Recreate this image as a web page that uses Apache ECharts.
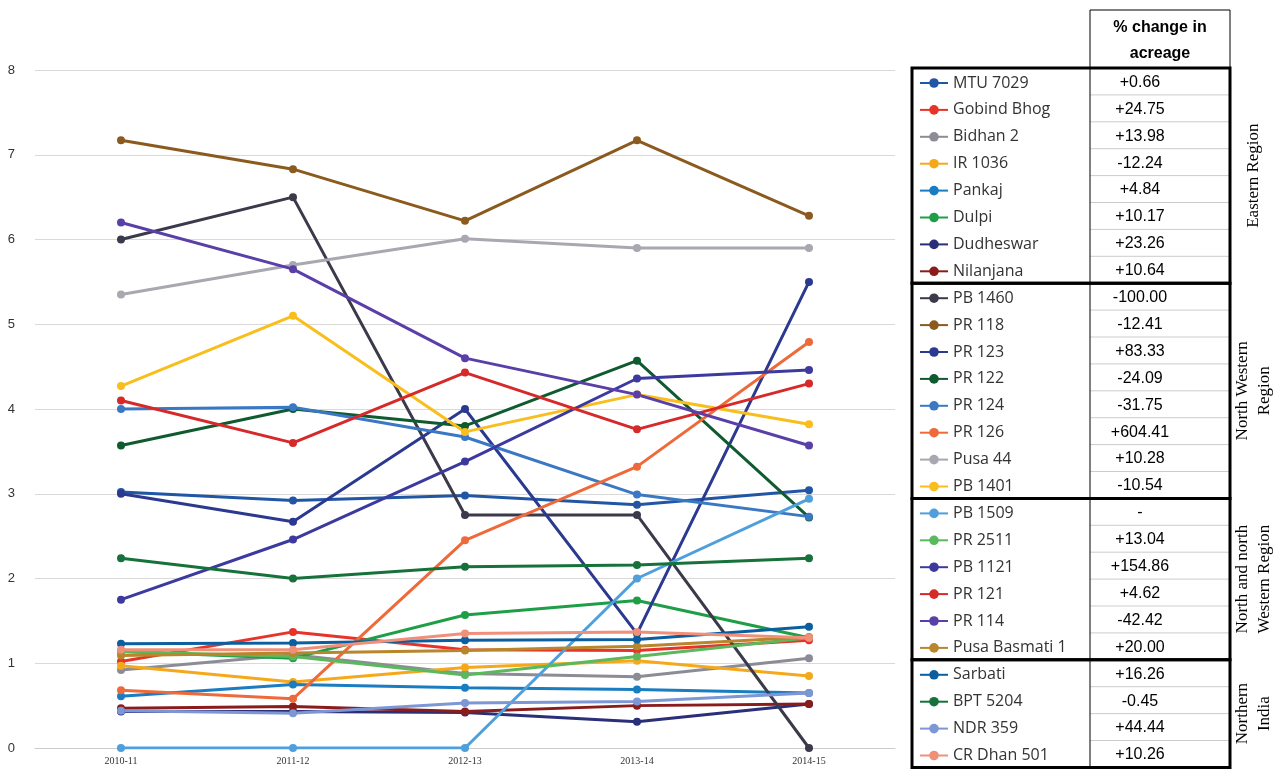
<!DOCTYPE html>
<html>
<head>
<meta charset="utf-8">
<script src="https://cdn.jsdelivr.net/npm/echarts@6/dist/echarts.min.js"></script>
<style>html,body{margin:0;padding:0;background:#fff}#chart{width:1281px;height:773px}</style>
</head>
<body>
<div id="chart"></div>
<script>
var years = ['2010-11', '2011-12', '2012-13', '2013-14', '2014-15'];

var varieties = ['MTU 7029', 'Gobind Bhog', 'Bidhan 2', 'IR 1036', 'Pankaj', 'Dulpi', 'Dudheswar', 'Nilanjana',
    'PB 1460', 'PR 118', 'PR 123', 'PR 122', 'PR 124', 'PR 126', 'Pusa 44', 'PB 1401',
    'PB 1509', 'PR 2511', 'PB 1121', 'PR 121', 'PR 114', 'Pusa Basmati 1',
    'Sarbati', 'BPT 5204', 'NDR 359', 'CR Dhan 501'];
var pctChange = ['+0.66', '+24.75', '+13.98', '-12.24', '+4.84', '+10.17', '+23.26', '+10.64',
    '-100.00', '-12.41', '+83.33', '-24.09', '-31.75', '+604.41', '+10.28', '-10.54',
    '-', '+13.04', '+154.86', '+4.62', '-42.42', '+20.00',
    '+16.26', '-0.45', '+44.44', '+10.26'];
var colors = ['#2156a5', '#e8332a', '#8c8c96', '#f5a91a', '#1a7cc1', '#1f9e48', '#2a2f78', '#8b1c1c',
    '#3a3a4a', '#8b5a1e', '#2b3990', '#0f5a2e', '#3b78c4', '#ef6a3a', '#a8a8b0', '#f9bd1c',
    '#4e9fdc', '#5cb85c', '#3c3a9e', '#d62a2a', '#5b3fa8', '#b8862b',
    '#0b5fa0', '#16723a', '#7d96d4', '#f0907a'];
var values = [
    [3.02, 2.92, 2.98, 2.87, 3.04],
    [1.02, 1.37, 1.16, 1.15, 1.27],
    [0.92, 1.10, 0.88, 0.84, 1.06],
    [0.97, 0.78, 0.95, 1.03, 0.85],
    [0.61, 0.75, 0.71, 0.69, 0.65],
    [1.14, 1.06, 1.57, 1.74, 1.30],
    [0.43, 0.43, 0.42, 0.31, 0.52],
    [0.47, 0.49, 0.43, 0.50, 0.52],
    [6.00, 6.50, 2.75, 2.75, 0.00],
    [7.17, 6.83, 6.22, 7.17, 6.28],
    [3.00, 2.67, 4.00, 1.35, 5.50],
    [3.57, 4.00, 3.80, 4.57, 2.72],
    [4.00, 4.02, 3.67, 2.99, 2.73],
    [0.68, 0.58, 2.45, 3.32, 4.79],
    [5.35, 5.70, 6.01, 5.90, 5.90],
    [4.27, 5.10, 3.73, 4.17, 3.82],
    [0.00, 0.00, 0.00, 2.00, 2.94],
    [1.14, 1.08, 0.86, 1.08, 1.30],
    [1.75, 2.46, 3.38, 4.36, 4.46],
    [4.10, 3.60, 4.43, 3.76, 4.30],
    [6.20, 5.65, 4.60, 4.17, 3.57],
    [1.09, 1.12, 1.15, 1.20, 1.31],
    [1.23, 1.24, 1.27, 1.28, 1.43],
    [2.24, 2.00, 2.14, 2.16, 2.24],
    [0.44, 0.41, 0.53, 0.55, 0.65],
    [1.16, 1.16, 1.35, 1.37, 1.30]
];
var regions = [
    { name: 'Eastern Region', from: 0, to: 8 },
    { name: 'North Western\nRegion', from: 8, to: 16 },
    { name: 'North and north\nWestern Region', from: 16, to: 22 },
    { name: 'Northern\nIndia', from: 22, to: 26 }
];

var chart = echarts.init(document.getElementById('chart'));

var rowTop = 68, rowH = 26.9;
var tableL = 912, colX = 1090, tableR = 1230;

var series = varieties.map(function (n, i) {
    return {
        name: n, type: 'line', data: values[i], symbol: 'circle', symbolSize: 8,
        lineStyle: { width: 3, color: colors[i] }, itemStyle: { color: colors[i] }
    };
});

var graphics = [];
// header cell
graphics.push({ type: 'rect', shape: { x: colX, y: 10, width: tableR - colX, height: rowTop - 10 },
    style: { fill: 'none', stroke: '#000', lineWidth: 1 } });
graphics.push({ type: 'text', x: (colX + tableR) / 2, y: 41,
    style: { text: '% change in\nacreage', fontSize: 16, fontWeight: 'bold', fontFamily: 'Liberation Sans',
        align: 'center', verticalAlign: 'middle', lineHeight: 26, fill: '#000' } });
pctChange.forEach(function (p, i) {
    graphics.push({ type: 'text', x: colX + 50, y: rowTop + rowH * (i + 0.5) + 1,
        style: { text: p, fontSize: 16, fontFamily: 'Liberation Sans', verticalAlign: 'middle', align: 'center', fill: '#000' } });
    graphics.push({ type: 'line', shape: { x1: colX, y1: rowTop + rowH * (i + 1), x2: tableR, y2: rowTop + rowH * (i + 1) },
        style: { stroke: '#999', lineWidth: 0.5 } });
});
graphics.push({ type: 'line', shape: { x1: colX, y1: rowTop, x2: colX, y2: rowTop + rowH * 26 },
    style: { stroke: '#000', lineWidth: 1 } });
regions.forEach(function (r) {
    var y0 = rowTop + rowH * r.from, h = rowH * (r.to - r.from);
    graphics.push({ type: 'rect', shape: { x: tableL, y: y0, width: tableR - tableL, height: h },
        style: { fill: 'none', stroke: '#000', lineWidth: 3 } });
    graphics.push({ type: 'text', x: 1254, y: y0 + h / 2, rotation: Math.PI / 2,
        style: { text: r.name, fontSize: 17, fontFamily: 'Liberation Serif', align: 'center', verticalAlign: 'middle',
            lineHeight: 22, fill: '#000' } });
});

var option = {
    animation: false,
    color: colors,
    grid: { left: 35, right: 386, top: 70, bottom: 25, containLabel: false },
    xAxis: {
        type: 'category', data: years, boundaryGap: true,
        axisLine: { lineStyle: { color: '#ccc' } }, axisTick: { show: false },
        axisLabel: { color: '#333', fontSize: 10, fontFamily: 'Liberation Serif' }
    },
    yAxis: {
        type: 'value', min: 0, max: 8, interval: 1,
        axisLine: { show: false }, axisTick: { show: false },
        axisLabel: { color: '#333', fontSize: 13, margin: 20 },
        splitLine: { lineStyle: { color: '#d9d9d9' } }
    },
    legend: {
        orient: 'vertical', left: 914, top: rowTop + 2, itemGap: 10.9, itemHeight: 12, itemWidth: 28,
        textStyle: { fontSize: 16, lineHeight: 16, color: '#333', fontFamily: 'Open Sans' },
        data: varieties
    },
    graphic: graphics,
    series: series
};
chart.setOption(option);
</script>
</body>
</html>
